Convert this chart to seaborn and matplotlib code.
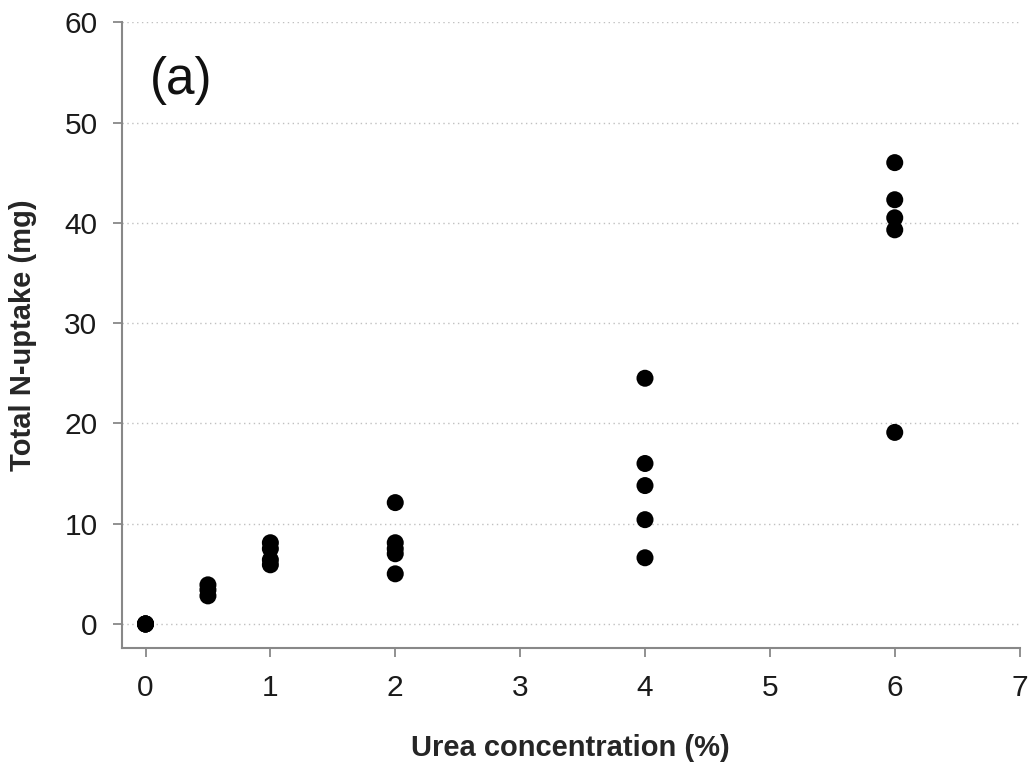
import matplotlib
matplotlib.use("Agg")
import matplotlib.pyplot as plt
import seaborn as sns
import pandas as pd

urea = [0, 0, 0, 0, 0.5, 0.5, 0.5, 1, 1, 1, 1, 2, 2, 2, 2, 2, 4, 4, 4, 4, 4, 6, 6, 6, 6, 6]
uptake = [0, 0, 0, 0, 3.9, 3.4, 2.8, 8.1, 7.5, 6.4, 5.9, 12.1, 8.1, 7.5, 7.0, 5.0,
          24.5, 16.0, 13.8, 10.4, 6.6, 46.0, 42.3, 40.5, 39.3, 19.1]
x_ticks = [0, 1, 2, 3, 4, 5, 6, 7]
y_ticks = [0, 10, 20, 30, 40, 50, 60]

df = pd.DataFrame({"urea": urea, "uptake": uptake})

sns.set_style("white")
plt.rcParams['font.family'] = ['Liberation Sans', 'DejaVu Sans']

fig = plt.figure(figsize=(10.32, 7.66), dpi=100)
ax = fig.add_axes([0.118, 0.154, 0.870, 0.817])

for yv in y_ticks:
    ax.axhline(yv, color="#c0c0c0", linestyle=(0, (1, 2.5)), linewidth=1.0, zorder=0)

sns.scatterplot(data=df, x="urea", y="uptake", ax=ax, color="black", s=150,
                edgecolor="none", zorder=3, legend=False)

ax.set_xlim(-0.19, 7)
ax.set_ylim(-2.4, 60)
ax.set_xticks(x_ticks)
ax.set_yticks(y_ticks)
ax.tick_params(axis="both", which="major", bottom=True, left=True, labelsize=21.5,
               color="#888888", length=6.5, width=1.3, direction="out",
               labelcolor="#1a1a1a")
ax.tick_params(axis="x", pad=12)
ax.tick_params(axis="y", pad=11)
for side in ["top", "right"]:
    ax.spines[side].set_visible(False)
for side in ["left", "bottom"]:
    ax.spines[side].set_color("#888888")
    ax.spines[side].set_linewidth(1.5)

ax.set_xlabel("Urea concentration (%)", fontsize=21, fontweight="bold", va="center")
ax.set_ylabel("Total N-uptake (mg)", fontsize=21, fontweight="bold", va="center")
ax.xaxis.set_label_coords(0.5, -0.16)
ax.yaxis.set_label_coords(-0.110, 0.5)
ax.text(0.031, 0.946, "(a)", transform=ax.transAxes, fontsize=37, va="top", ha="left",
        color="#111111")

fig.savefig("out.png", dpi=100)
